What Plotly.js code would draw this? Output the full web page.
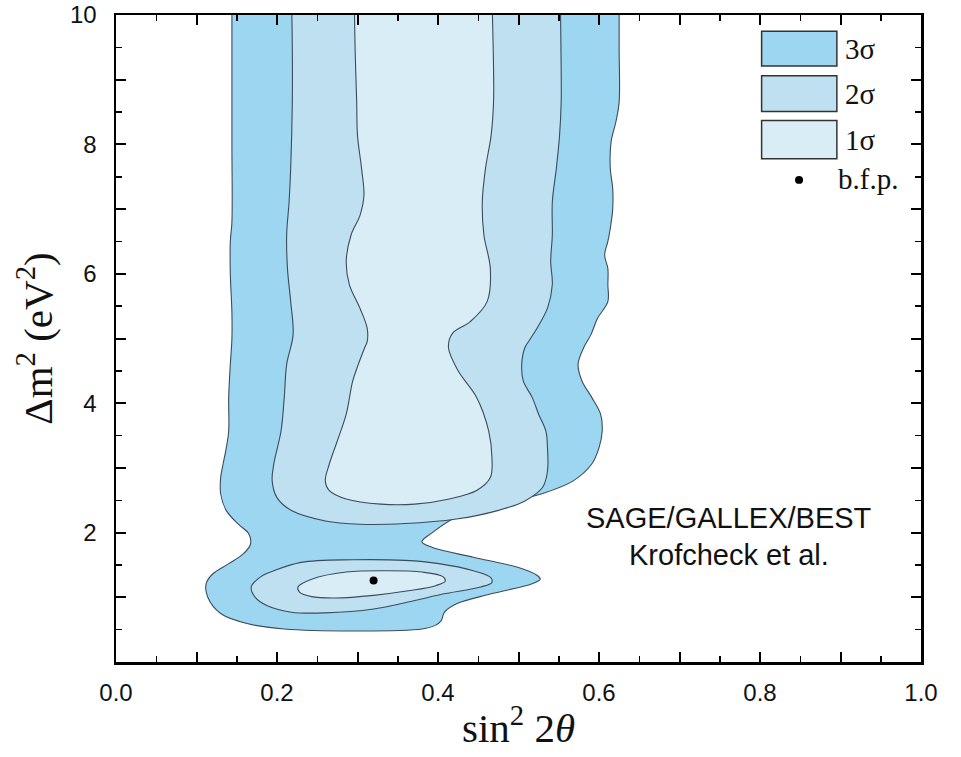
<!DOCTYPE html>
<html>
<head>
<meta charset="utf-8">
<script src="https://cdn.plot.ly/plotly-3.0.1.min.js"></script>
<style>html,body{margin:0;padding:0;background:#fff;}#chart{width:961px;height:757px;}</style>
</head>
<body>
<div id="chart"></div>
<script>
// ---- data (x = sin^2 2θ, y = Δm^2 in eV^2) ----
const sigma3X = [0.144,0.144,0.144,0.144,0.142,0.142,0.144,0.144,0.142,0.140,0.140,0.137,0.133,0.130,0.130,0.137,0.152,0.165,0.167,0.158,0.140,0.120,0.112,0.114,0.130,0.164,0.209,0.294,0.380,0.397,0.404,0.408,0.423,0.465,0.517,0.527,0.523,0.500,0.444,0.393,0.380,0.393,0.423,0.478,0.529,0.568,0.591,0.600,0.604,0.602,0.591,0.579,0.574,0.581,0.590,0.598,0.611,0.611,0.611,0.607,0.611,0.614,0.617,0.617,0.614,0.615,0.621,0.625,0.625,0.625];
const sigma3Y = [10.3,9.0,8.0,6.8,6.5,6.0,5.4,5.0,4.6,4.09,3.57,3.31,3.06,2.85,2.6,2.34,2.13,1.98,1.82,1.67,1.52,1.36,1.21,1.0,0.75,0.59,0.51,0.48,0.51,0.57,0.64,0.77,0.9,1.05,1.21,1.28,1.34,1.46,1.62,1.77,1.86,2.0,2.24,2.44,2.6,2.8,3.06,3.31,3.57,3.83,4.09,4.34,4.6,4.86,5.06,5.31,5.57,5.83,6.08,6.29,6.5,6.7,7.0,7.32,7.63,8.04,8.35,8.65,9.5,10.3];

const sigma2UpperX = [0.218,0.219,0.219,0.217,0.215,0.212,0.213,0.217,0.220,0.212,0.209,0.205,0.196,0.194,0.200,0.218,0.260,0.303,0.359,0.423,0.474,0.508,0.530,0.536,0.536,0.534,0.525,0.517,0.506,0.504,0.508,0.515,0.523,0.536,0.542,0.540,0.542,0.542,0.547,0.551,0.553,0.553,0.552];
const sigma2UpperY = [10.3,9.5,8.65,7.63,7.11,6.6,6.08,5.57,5.06,4.6,4.09,3.57,3.06,2.8,2.54,2.34,2.18,2.13,2.14,2.21,2.34,2.49,2.7,2.95,3.31,3.57,3.83,4.09,4.34,4.6,4.86,5.0,5.16,5.47,5.83,6.19,6.6,7.11,7.63,8.14,8.65,9.17,10.3];

const sigma2LowerX = [0.168,0.180,0.196,0.230,0.294,0.359,0.401,0.444,0.465,0.467,0.453,0.406,0.371,0.320,0.260,0.218,0.188,0.173,0.168];
const sigma2LowerY = [1.16,1.32,1.41,1.54,1.58,1.57,1.52,1.41,1.31,1.23,1.16,1.05,0.95,0.82,0.76,0.77,0.87,1.0,1.16];

const sigma1UpperX = [0.296,0.297,0.299,0.300,0.305,0.308,0.303,0.292,0.286,0.290,0.303,0.312,0.312,0.309,0.301,0.294,0.286,0.275,0.265,0.260,0.265,0.286,0.329,0.371,0.414,0.448,0.465,0.467,0.463,0.448,0.425,0.413,0.418,0.440,0.461,0.465,0.457,0.455,0.459,0.466,0.469,0.469,0.467];
const sigma1UpperY = [10.3,9.5,8.65,8.14,7.63,7.21,6.9,6.6,6.19,5.83,5.47,5.16,4.95,4.86,4.6,4.34,3.83,3.42,3.06,2.8,2.65,2.52,2.44,2.44,2.52,2.65,2.85,3.16,3.57,4.09,4.5,4.86,5.08,5.26,5.57,6.08,6.6,7.11,7.63,8.14,8.65,9.17,10.3];

const sigma1LowerX = [0.226,0.243,0.286,0.337,0.380,0.406,0.409,0.397,0.363,0.320,0.273,0.243,0.228,0.226];
const sigma1LowerY = [1.16,1.28,1.39,1.41,1.39,1.32,1.25,1.18,1.10,1.03,0.99,1.01,1.08,1.16];

const bfpX = [0.320];
const bfpY = [1.26];

const xTickVals = [0, 0.2, 0.4, 0.6, 0.8, 1.0];
const xTickText = ['0.0', '0.2', '0.4', '0.6', '0.8', '1.0'];
const yTickVals = [2, 4, 6, 8, 10];
const yTickText = ['2', '4', '6', '8', '10'];

const legendLabels = ['3σ','2σ','1σ','b.f.p.'];

// ---- styles ----
const c3 = '#9dd6f1', c2 = '#bfe0f0', c1 = '#d9edf6';
const edge = '#3c4b5c';

function region(x, y, fill) {
  return {x: x, y: y, type: 'scatter', mode: 'lines', fill: 'toself', fillcolor: fill,
          line: {color: edge, width: 1.1, shape: 'spline', smoothing: 1},
          hoverinfo: 'skip', showlegend: false};
}

const traces = [
  region(sigma3X, sigma3Y, c3),
  region(sigma2UpperX, sigma2UpperY, c2),
  region(sigma2LowerX, sigma2LowerY, c2),
  region(sigma1UpperX, sigma1UpperY, c1),
  region(sigma1LowerX, sigma1LowerY, c1),
  {x: bfpX, y: bfpY, type: 'scatter', mode: 'markers', marker: {color: '#000', size: 8}, showlegend: false},
  // empty trace that only carries the unlabeled long-tick overlay axes
  {x: [], y: [], type: 'scatter', mode: 'markers', xaxis: 'x2', yaxis: 'y2', showlegend: false, hoverinfo: 'skip'}
];

// custom legend (paper coordinates)
const boxColors = [c3, c2, c1];
const boxTops = [0.975, 0.906, 0.837];
const boxBots = [0.921, 0.851, 0.778];
const shapes = [];
const annotations = [];
const legendFont = {family: 'Liberation Serif, serif', size: 29, color: '#111'};
for (let i = 0; i < 3; i++) {
  shapes.push({type: 'rect', xref: 'paper', yref: 'paper', x0: 0.802, x1: 0.8955,
               y0: boxBots[i], y1: boxTops[i], fillcolor: boxColors[i],
               line: {color: '#333', width: 1.5}});
  annotations.push({xref: 'paper', yref: 'paper', x: 0.903, y: (boxTops[i] + boxBots[i]) / 2,
                    xanchor: 'left', yanchor: 'middle', showarrow: false, text: legendLabels[i],
                    font: legendFont});
}
shapes.push({type: 'circle', xref: 'paper', yref: 'paper', x0: 0.8435, x1: 0.8535,
             y0: 0.739, y1: 0.751, fillcolor: '#000', line: {color: '#000', width: 0}});
annotations.push({xref: 'paper', yref: 'paper', x: 0.894, y: 0.747, xanchor: 'left', yanchor: 'middle',
                  showarrow: false, text: legendLabels[3], font: legendFont});
const noteFont = {family: 'Liberation Sans, Arial, sans-serif', size: 29, color: '#111'};
annotations.push({xref: 'paper', yref: 'paper', x: 0.762, y: 0.223, xanchor: 'center', yanchor: 'middle',
                  showarrow: false, text: 'SAGE/GALLEX/BEST', font: noteFont});
annotations.push({xref: 'paper', yref: 'paper', x: 0.762, y: 0.165, xanchor: 'center', yanchor: 'middle',
                  showarrow: false, text: 'Krofcheck et al.', font: noteFont});

const tickFont = {family: 'Liberation Sans, Arial, sans-serif', size: 24, color: '#111'};
const titleFont = {family: 'Liberation Serif, serif', size: 41, color: '#111'};

const frame = {showgrid: false, zeroline: false, showline: true, linecolor: '#000', linewidth: 2.5,
               mirror: 'allticks', ticks: 'inside', tickcolor: '#000', automargin: false};

const layout = {
  width: 961, height: 757,
  margin: {l: 116, r: 40, t: 15, b: 95},
  paper_bgcolor: '#fff', plot_bgcolor: 'rgba(0,0,0,0)',
  showlegend: false,
  xaxis: Object.assign({}, frame, {
    range: [0, 1], ticklen: 10, tickwidth: 2,
    tickmode: 'array', tickvals: xTickVals, ticktext: xTickText,
    minor: {tick0: 0, dtick: 0.05, ticks: 'inside', ticklen: 6, tickwidth: 1.5, tickcolor: '#000', showgrid: false},
    tickfont: tickFont, ticklabelstandoff: 8, ticklabeloverflow: 'allow',
    title: {text: 'sin<sup>2</sup> 2<i>θ</i>', font: titleFont, standoff: 8}
  }),
  yaxis: Object.assign({}, frame, {
    range: [0, 10], ticklen: 10, tickwidth: 2,
    tickmode: 'array', tickvals: yTickVals, ticktext: yTickText,
    minor: {tick0: 0, dtick: 0.5, ticks: 'inside', ticklen: 6, tickwidth: 1.5, tickcolor: '#000', showgrid: false},
    tickfont: tickFont, ticklabelstandoff: 12, ticklabeloverflow: 'allow',
    title: {text: 'Δm<sup>2</sup> (eV<sup>2</sup>)', font: titleFont, standoff: 5}
  }),
  xaxis2: Object.assign({}, frame, {
    overlaying: 'x', side: 'bottom', anchor: 'y2', range: [0, 1],
    tickmode: 'linear', tick0: 0, dtick: 0.1, ticklen: 10, tickwidth: 2, showticklabels: false
  }),
  yaxis2: Object.assign({}, frame, {
    overlaying: 'y', side: 'left', anchor: 'x2', range: [0, 10],
    tickmode: 'linear', tick0: 0, dtick: 1, ticklen: 10, tickwidth: 2, showticklabels: false
  }),
  shapes: shapes,
  annotations: annotations
};

Plotly.newPlot('chart', traces, layout, {displayModeBar: false, staticPlot: true});
</script>
</body>
</html>
